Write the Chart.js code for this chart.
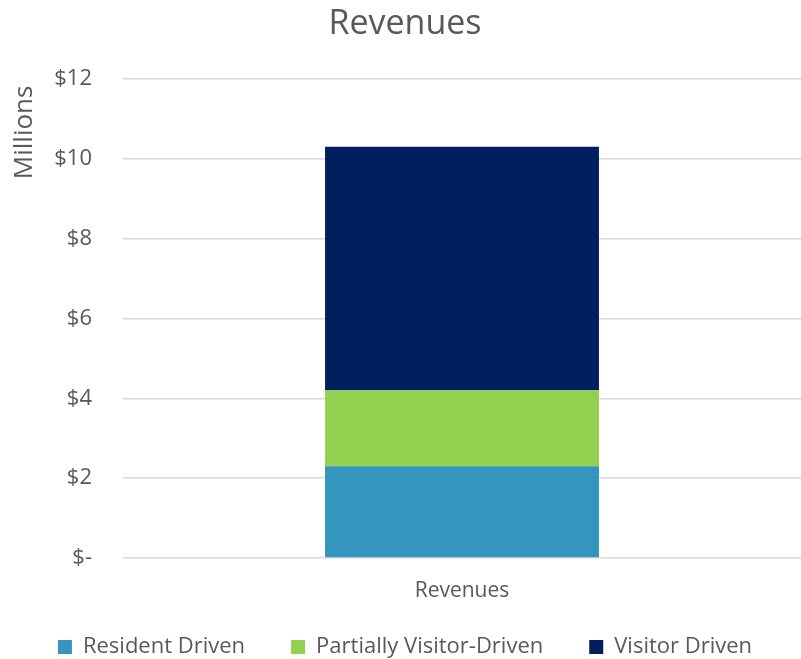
<!DOCTYPE html>
<html>
<head>
<meta charset="utf-8">
<script src="https://cdn.jsdelivr.net/npm/chart.js@4/dist/chart.umd.min.js"></script>
<style>
  html, body { margin: 0; padding: 0; background: #fff; }
  #wrap { width: 801px; height: 659px; }
</style>
</head>
<body>
<div id="wrap"><canvas id="myChart" width="801" height="659"></canvas></div>
<script>
// revenue breakdown, in millions of dollars
var categories = ["Revenues"];
var residentDriven = [2.3];
var partiallyVisitor = [1.9];
var visitorDriven = [6.1];
var yTicks = [0, 2, 4, 6, 8, 10, 12];

var textColor = "#595959";
var fontFamily = "'Open Sans', 'Noto Sans', sans-serif";

const datachart = {
  labels: categories,
  datasets: [
    { label: "Resident Driven", data: residentDriven, backgroundColor: "rgb(53, 150, 189)" },
    { label: "Partially Visitor-Driven", data: partiallyVisitor, backgroundColor: "rgb(146, 208, 80)" },
    { label: "Visitor Driven", data: visitorDriven, backgroundColor: "rgb(0, 31, 95)" }
  ]
};

const config = {
  type: "bar",
  data: datachart,
  options: {
    responsive: false,
    animation: false,
    layout: { padding: { top: 4, left: 9, right: 0, bottom: -9 } },
    datasets: {
      bar: { barPercentage: 0.404, categoryPercentage: 1.0 }
    },
    plugins: {
      title: {
        display: true,
        text: "Revenues",
        color: textColor,
        font: { family: fontFamily, size: 34, weight: "normal" },
        padding: { top: 0, bottom: 34 }
      },
      legend: {
        position: "bottom",
        labels: {
          color: textColor,
          font: { family: fontFamily, size: 22 },
          boxWidth: 14,
          boxHeight: 14,
          padding: 46
        }
      },
      tooltip: { enabled: false }
    },
    scales: {
      x: {
        stacked: true,
        grid: { display: false },
        border: { display: false },
        // the category name goes in the axis title so the short axis box doesn't clip it
        ticks: { display: false },
        title: {
          display: true,
          text: categories[0],
          color: textColor,
          font: { family: fontFamily, size: 21 },
          padding: { top: 0, bottom: -14 }
        },
        afterFit: function (axis) { axis.height = 32; }
      },
      y: {
        stacked: true,
        min: 0,
        max: 12,
        afterBuildTicks: function (axis) {
          axis.ticks = yTicks.map(function (v) { return { value: v }; });
        },
        grid: { color: "#d9d9d9", lineWidth: 1.5, drawTicks: false },
        border: { display: false },
        ticks: {
          color: textColor,
          font: { family: fontFamily, size: 22 },
          padding: 31,
          callback: function (v) { return v === 0 ? "$-" : "$" + v; }
        },
        title: {
          display: true,
          text: "Millions ",
          align: "end",
          color: textColor,
          font: { family: fontFamily, size: 26 },
          padding: { top: 0, bottom: 4 }
        },
        afterFit: function (axis) { axis.width = 114; }
      }
    }
  }
};

var ctx1 = document.getElementById("myChart");
const myChart = new Chart(ctx1, config);
</script>
</body>
</html>
